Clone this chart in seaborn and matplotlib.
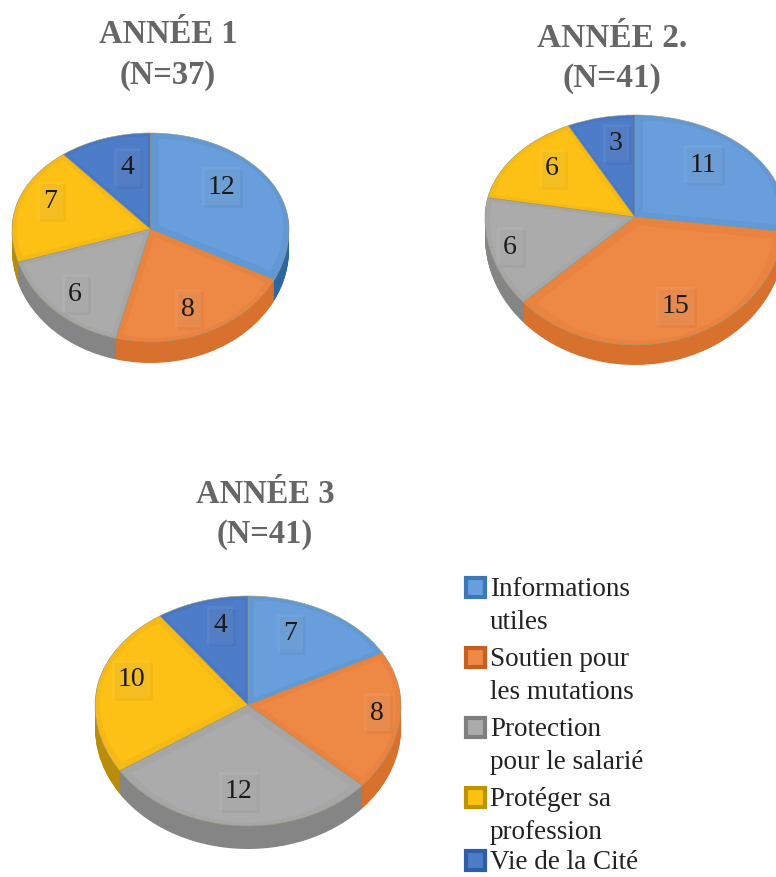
import matplotlib
matplotlib.use("Agg")
import matplotlib.pyplot as plt
from matplotlib.patches import Rectangle
import numpy as np
import seaborn as sns

sns.set_theme(style="white")
plt.rcParams['font.family'] = ['Liberation Serif', 'DejaVu Serif']

W, H = 776, 877

categories = ["Informations\nutiles", "Soutien pour\nles mutations", "Protection\npour le salarié",
              "Protéger sa\nprofession", "Vie de la Cité"]
year1 = [12, 8, 6, 7, 4]
year2 = [11, 15, 6, 6, 3]
year3 = [7, 8, 12, 10, 4]
titles = ["ANNÉE 1\n(N=37)", "ANNÉE 2.\n(N=41)", "ANNÉE 3\n(N=41)"]

band_cols = sns.color_palette(["#6299d4", "#ea8340", "#a6a6a6", "#f6ba16", "#4977c4"])
top_cols = sns.color_palette(["#679edb", "#ee8845", "#ababab", "#fdc014", "#4d7cc8"])
side_cols = sns.color_palette(["#2f66a0", "#d8702e", "#858585", "#b98c0a", "#2f5597"])
legend_edge = sns.color_palette(["#3a78b8", "#c75f22", "#7f7f7f", "#bd9300", "#2f5da8"])

fig = plt.figure(figsize=(W / 100, H / 100), dpi=100, facecolor="white")


def draw_pie(vals, cx, rx, top, apex, bottom, depth):
    # the apex sits above the ellipse middle (perspective), so the two halves get different scales
    up = apex - top
    down = bottom - apex
    d = depth / down

    def fwd(y):
        y = np.asarray(y, dtype=float)
        return np.where(y >= 0, y * up, y * down)

    def inv(v):
        v = np.asarray(v, dtype=float)
        return np.where(v >= 0, v / up, v / down)

    ax = fig.add_axes([(cx - rx) / W, 1 - (bottom + depth) / H, 2 * rx / W, (up + down + depth) / H])
    for i in range(depth, 0, -1):
        ax.pie(vals, startangle=90, counterclock=False, colors=side_cols, center=(0, -d * i / depth),
               radius=1, wedgeprops={"linewidth": 0})
    ax.pie(vals, startangle=90, counterclock=False, colors=band_cols, radius=1,
           wedgeprops={"linewidth": 0.4, "edgecolor": "#9a9a7a"})
    # exploded a little so the lighter inner part leaves a bevel along every edge
    ax.pie(vals, startangle=90, counterclock=False, colors=top_cols, radius=0.9,
           explode=[0.07] * len(vals), wedgeprops={"linewidth": 0})
    ax.set_aspect("auto")
    ax.set_yscale("function", functions=(fwd, inv))
    ax.set_xlim(-1, 1)
    ax.set_ylim(-1 - d, 1)
    ax.axis("off")


draw_pie(year1, 150.5, 138.5, 133, 229, 342, 21)
draw_pie(year2, 635, 150, 115, 217, 345, 20)
draw_pie(year3, 248, 153, 596, 705, 826, 23)


def label(txt, x, y):
    w = 26 if len(str(txt)) == 1 else 38
    fig.add_artist(Rectangle(((x - w / 2 + 3) / W, 1 - (y + 21) / H), w / W, 38 / H, transform=fig.transFigure,
                             facecolor="black", alpha=0.035, linewidth=0))
    fig.add_artist(Rectangle(((x - w / 2) / W, 1 - (y + 18) / H), w / W, 38 / H, transform=fig.transFigure,
                             facecolor="white", alpha=0.06, linewidth=0))
    fig.text(x / W, 1 - y / H, str(txt), fontsize=20, color="#1a1a1a", ha="center", va="center")


pos1 = [(221, 187), (188, 309), (75, 294), (50, 201), (127, 168)]
pos2 = [(703, 165), (675, 307), (510, 247), (552, 169), (616, 144)]
pos3 = [(290, 634), (377, 713), (238, 792), (131, 680), (220, 626)]
for vals, pos in [(year1, pos1), (year2, pos2), (year3, pos3)]:
    for v, p in zip(vals, pos):
        label(v, p[0], p[1])

for t, x, y, fs in zip(titles, [168, 612, 265], [55, 58.5, 514.5], [23.5, 24, 23.5]):
    fig.text(x / W, 1 - y / H, t, fontsize=fs, fontweight="bold", color="#666666", ha="center", va="center",
             linespacing=1.38)

# legend, wrapped entries so drawn by hand
leg_y = [587.5, 657, 727, 797, 860]
for c, e, name, y in zip(top_cols, legend_edge, categories, leg_y):
    fig.add_artist(Rectangle((466 / W, 1 - (y + 9.5) / H), 19 / W, 19 / H, transform=fig.transFigure,
                             facecolor=c, edgecolor=e, linewidth=3))
    fig.text(490 / W, 1 - (y - 10) / H, name, fontsize=19.5, color="#222222", ha="left", va="top", linespacing=1.4)

fig.savefig("out.png", dpi=100)
